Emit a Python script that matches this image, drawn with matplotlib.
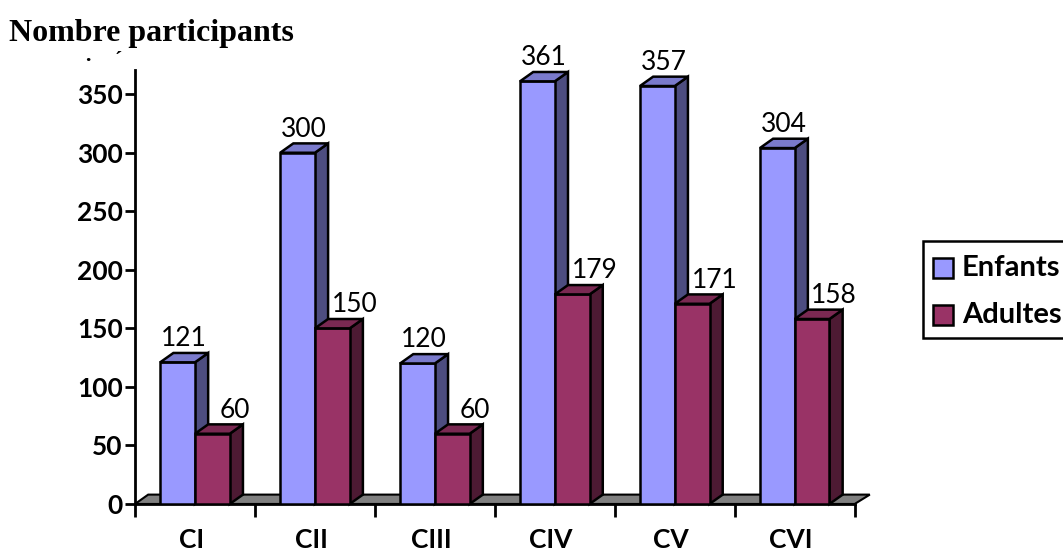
import matplotlib.pyplot as plt
from matplotlib.patches import Polygon, Rectangle

# participants per cycle
cycles = ["CI", "CII", "CIII", "CIV", "CV", "CVI"]
enfants = [121, 300, 120, 361, 357, 304]
adultes = [60, 150, 60, 179, 171, 158]

# name, values, (front, top, side) colours, label shift
series = [
    ("Enfants", enfants, ("#9999FF", "#7A7ACC", "#4D4D80"), 0.0),
    ("Adultes", adultes, ("#993366", "#7A2952", "#4D1A33"), 0.13),
]

FONT = "Lato"
BAR_W = 0.29
DX, DY = 0.11, 8.0  # fake 3D depth (x in category units, y in data units)
YMAX = 371

fig = plt.figure(figsize=(10.63, 5.54), dpi=100)
ax = fig.add_axes([0.127, 0.0903, 0.677, 0.784])
ax.set_xlim(0, len(cycles))
ax.set_ylim(0, YMAX)

# grey floor plate
n = len(cycles)
ax.add_patch(Polygon([(0, 0), (DX, DY), (n + DX * 1.15, DY), (n, 0)],
                     closed=True, fc="#808080", ec="black", lw=1.5,
                     zorder=1, clip_on=False))


def bar3d(x0, h, colors, shift):
    front, top, side = colors
    ax.bar(x0, h, width=BAR_W, align="edge", color=front,
           edgecolor="black", linewidth=1.8, zorder=3)
    ax.add_patch(Polygon([(x0, h), (x0 + DX, h + DY),
                          (x0 + BAR_W + DX, h + DY), (x0 + BAR_W, h)],
                         closed=True, fc=top, ec="black", lw=1.8,
                         zorder=3, clip_on=False))
    ax.add_patch(Polygon([(x0 + BAR_W, 0), (x0 + BAR_W, h),
                          (x0 + BAR_W + DX, h + DY), (x0 + BAR_W + DX, DY)],
                         closed=True, fc=side, ec="black", lw=1.8,
                         zorder=2, clip_on=False))
    ax.text(x0 + (BAR_W + DX) / 2 + shift, h + DY + 1.5, str(h),
            ha="center", va="bottom", fontsize=19, family=FONT, zorder=5)


for i in range(n):
    for k, (name, vals, cols, shift) in enumerate(series):
        bar3d(i + 0.21 + k * BAR_W, vals[i], cols, shift)

# axes styling
for s in ("top", "right"):
    ax.spines[s].set_visible(False)
for s in ("left", "bottom"):
    ax.spines[s].set_linewidth(2)
ax.set_yticks(range(0, 351, 50))
ax.tick_params(axis="y", direction="out", length=7, width=2, pad=2)
ax.set_xticks(range(n + 1))
ax.set_xticklabels([])
ax.tick_params(axis="x", direction="out", length=9, width=2)
for lbl in ax.get_yticklabels():
    lbl.set_fontweight("bold")
    lbl.set_fontsize(19)
    lbl.set_family(FONT)
for i, c in enumerate(cycles):
    ax.text(i + 0.47, -31, c, ha="center", va="center", fontsize=19,
            fontweight="bold", family=FONT)

fig.text(0.008, 0.940, "Nombre participants", fontsize=23,
         fontweight="bold", family="Liberation Serif", va="center")
fig.text(0.08, 0.890, "·    ´", fontsize=16, fontweight="bold",
         family="Liberation Serif", va="center")

# legend box, runs off the right edge
W, H = fig.get_size_inches() * fig.dpi
fig.patches.append(Rectangle((923 / W, 1 - 338 / H), 160 / W, 97 / H,
                             transform=fig.transFigure, fc="white",
                             ec="black", lw=1.8))
for k, (name, _, cols, _) in enumerate(series):
    yc = 268 + k * 47
    fig.patches.append(Rectangle((933 / W, 1 - (yc + 10) / H), 20 / W,
                                 20 / H, transform=fig.transFigure,
                                 fc=cols[0], ec="black", lw=1.8))
    fig.text(962 / W, 1 - yc / H, name, fontsize=21, fontweight="bold",
             family=FONT, va="center", ha="left")

fig.savefig("out.png", dpi=100)
